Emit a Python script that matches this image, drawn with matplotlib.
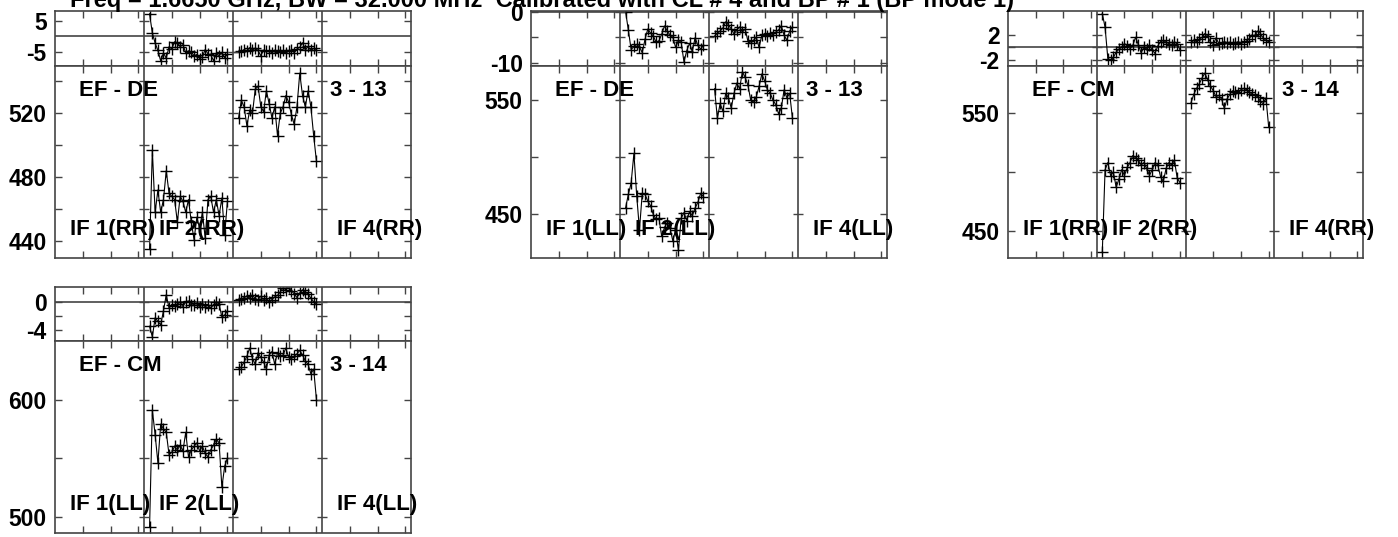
import matplotlib
matplotlib.use('Agg')
import matplotlib.pyplot as plt
import numpy as np

plt.rcParams['font.family'] = ['Liberation Sans', 'DejaVu Sans']
plt.rcParams['font.weight'] = 'bold'

title = 'Freq = 1.6650 GHz, BW = 32.000 MHz  Calibrated with CL # 4 and BP # 1 (BP mode 1)'

# channels 2..30 of IF 2 and IF 3 carry data (32 channels per IF)
chans = np.arange(2, 31)
n_chan = 32
n_if = 4

baselines = ['EF - DE', 'EF - DE', 'EF - CM', 'EF - CM']
ant_ids = ['3 - 13', '3 - 13', '3 - 14', '3 - 14']
pols = ['RR', 'LL', 'RR', 'LL']

# amplitude, IF 2 / IF 3
amp_if2 = [
    [435, 497, 458, 472, 458, 466, 484, 470, 468, 466, 452, 468, 465, 458, 466,
     452, 441, 455, 448, 458, 442, 466, 468, 458, 466, 456, 467, 444, 465],
    [455, 467, 477, 503, 466, 436, 468, 467, 461, 457, 449, 445, 446, 430, 438,
     442, 437, 426, 436, 418, 446, 451, 444, 452, 448, 455, 460, 468, 465],
    [432, 502, 508, 497, 500, 487, 494, 502, 497, 504, 508, 514, 512, 510, 506,
     508, 503, 497, 502, 508, 506, 496, 492, 503, 508, 506, 510, 495, 491],
    [491, 591, 570, 546, 579, 575, 572, 553, 555, 560, 557, 561, 556, 572, 551,
     557, 560, 563, 556, 560, 554, 551, 557, 561, 566, 563, 525, 543, 550],
]
amp_if3 = [
    [517, 528, 524, 512, 522, 520, 535, 537, 524, 521, 534, 526, 517, 524, 506,
     520, 524, 531, 527, 519, 513, 524, 545, 531, 524, 534, 524, 506, 490],
    [560, 534, 547, 540, 556, 552, 543, 556, 565, 560, 575, 570, 563, 550, 548,
     553, 562, 573, 567, 559, 556, 550, 546, 538, 543, 559, 552, 556, 534],
    [559, 566, 571, 575, 580, 584, 578, 573, 569, 564, 565, 562, 554, 562, 566,
     569, 568, 567, 570, 571, 570, 568, 566, 565, 564, 560, 558, 563, 538],
    [626, 628, 632, 637, 644, 635, 630, 640, 636, 632, 626, 638, 641, 630, 640,
     637, 638, 644, 636, 635, 637, 639, 642, 638, 633, 630, 622, 626, 600],
]

# phase (degrees), IF 2 / IF 3
phs_if2 = [
    [7.3, 1.1, -2.1, -4.5, -7.9, -5.3, -7.0, -3.3, -4.0, -1.7, -2.0, -3.3, -2.6, -5.3, -4.6,
     -5.0, -6.2, -5.8, -7.1, -6.5, -4.2, -5.6, -5.9, -7.8, -5.4, -6.2, -5.1, -6.8, -5.7],
    [0.0, -3.6, -7.4, -6.8, -6.4, -6.9, -8.0, -5.4, -3.4, -4.2, -4.8, -6.0, -5.7, -4.4, -2.8,
     -3.8, -4.6, -5.0, -7.0, -5.6, -6.0, -9.8, -7.6, -6.2, -7.8, -5.1, -6.6, -7.3, -6.6],
    [5.4, 3.2, -1.8, -2.1, -1.6, -0.8, -0.3, 0.0, 0.6, 0.2, -0.2, 0.3, 1.6, 0.4, -0.9,
     0.0, -0.3, 0.3, -0.4, -1.0, 0.2, 0.9, 1.1, 0.8, 0.6, 0.3, 0.9, 0.5, -0.4],
    [-3.4, -4.9, -2.2, -2.7, -3.2, -1.2, 1.1, -0.8, -0.3, -0.5, -0.2, 0.0, -0.6, 0.1, 0.2,
     -0.4, -0.3, -0.1, -0.7, -0.2, -0.6, -0.4, -0.8, -0.3, 0.0, -0.2, -2.1, -1.8, -1.2],
]
phs_if3 = [
    [-5.0, -4.8, -4.2, -4.6, -3.6, -4.3, -3.8, -4.5, -6.2, -4.4, -4.8, -4.6, -5.3, -4.4, -4.7,
     -5.0, -4.5, -5.4, -4.7, -4.3, -5.2, -4.0, -3.5, -2.0, -4.4, -3.2, -4.5, -3.8, -4.2],
    [-4.8, -4.2, -3.8, -3.2, -2.0, -2.6, -3.4, -4.4, -3.6, -3.0, -4.0, -3.4, -5.8, -6.2, -5.6,
     -5.0, -7.0, -4.6, -4.3, -4.8, -4.2, -4.5, -4.0, -3.6, -2.8, -4.6, -5.6, -3.8, -3.0],
    [0.8, 1.1, 0.9, 1.3, 1.6, 2.2, 1.8, 0.8, 0.4, 1.5, 0.6, 0.7, 0.9, 0.7, 0.8,
     0.6, 0.7, 0.9, 0.6, 0.8, 1.0, 1.4, 2.0, 1.8, 2.6, 2.2, 1.5, 1.1, 0.9],
    [0.3, 0.5, 0.7, 0.9, 0.6, 1.1, 0.5, 0.4, 0.9, 0.3, 0.6, 0.0, 0.4, 0.8, 1.0,
     1.5, 2.1, 1.8, 2.3, 1.7, 1.2, 0.7, 1.3, 1.8, 1.5, 1.2, 0.6, 0.1, -0.2],
]

# axis ranges and ticks per panel
amp_lims = [(429.5, 549.5), (411, 580), (427, 590), (486, 650)]
amp_major = [[440, 480, 520], [450, 550], [450, 550], [500, 600]]
amp_minor = [[460, 500, 540], [500], [500], [550]]
phs_lims = [(-9.5, 8.2), (-10.6, 0.1), (-3.0, 5.8), (-5.5, 2.2)]
phs_major = [[-5, 5], [-10, 0], [-2, 2], [-4, 0]]
phs_minor = [[], [-5], [0], [-2]]

# panel boxes in pixels: left, right, top, divider, bottom
W, H = 1398, 537
boxes = [(55, 411, 11, 66, 258), (531, 887, 11, 66, 258),
         (1008, 1363, 11, 66, 258), (55, 411, 287, 341, 533)]

fig = plt.figure(figsize=(W / 100, H / 100), dpi=100)
edge = '#444444'
bounds = [n_chan * k for k in range(1, n_if)]
xt = [n_chan * k + c for k in range(n_if) for c in (10, 20, 30)]


def style(ax, lims, major, minor):
    ax.set_xlim(0, n_chan * n_if)
    ax.set_ylim(*lims)
    ax.set_xticks(xt)
    ax.set_xticklabels([])
    ax.set_yticks(major)
    ax.set_yticks(minor, minor=True)
    ax.set_yticklabels([str(v) for v in major], fontsize=16.5, fontweight='bold')
    ax.tick_params(which='both', direction='in', top=True, right=True,
                   length=5, width=1, color=edge, pad=6)
    for s in ax.spines.values():
        s.set_color(edge)
        s.set_linewidth(1.2)
    for b in bounds:
        ax.axvline(b, color=edge, lw=1.2)
        yy = [v for v in major + minor if lims[0] < v < lims[1]]
        ax.plot([b] * len(yy), yy, ls='none', marker='_', ms=7, mew=1, color=edge)


for i, (x0, x1, yt, ym, yb) in enumerate(boxes):
    left, width = x0 / W, (x1 - x0) / W
    ax_p = fig.add_axes([left, 1 - ym / H, width, (ym - yt) / H])
    ax_a = fig.add_axes([left, 1 - yb / H, width, (yb - ym) / H])

    ax_p.axhline(0, color=edge, lw=1.2)
    for k, (amp, phs) in enumerate([(amp_if2[i], phs_if2[i]), (amp_if3[i], phs_if3[i])]):
        x = n_chan * (k + 1) + chans
        ax_a.plot(x, amp, '-+', color='black', lw=0.8, ms=8, mew=1.0)
        ax_p.plot(x, phs, '-+', color='black', lw=0.8, ms=8, mew=1.0)

    style(ax_p, phs_lims[i], phs_major[i], phs_minor[i])
    style(ax_a, amp_lims[i], amp_major[i], amp_minor[i])

    kw = dict(transform=ax_a.transAxes, fontsize=16, fontweight='bold', va='center', ha='left')
    ax_a.text(0.067, 0.87, baselines[i], **kw)
    ax_a.text(0.772, 0.87, ant_ids[i], **kw)
    for k in (0, 1, 3):
        ax_a.text(k / n_if + 15 / (x1 - x0), 0.146, 'IF %d(%s)' % (k + 1, pols[i]), **kw)

fig.text(70 / W, 1 - 7 / H, title, fontsize=17, fontweight='bold', ha='left', va='baseline')

fig.savefig('out.png', dpi=100)
